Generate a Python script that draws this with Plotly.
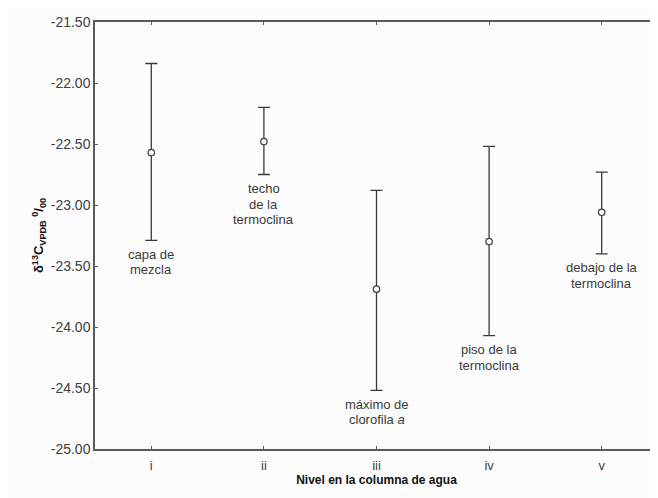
import plotly.graph_objects as go

categories = ["i", "ii", "iii", "iv", "v"]
means = [-22.57, -22.48, -23.69, -23.30, -23.06]
upper = [-21.84, -22.20, -22.88, -22.52, -22.73]
lower = [-23.29, -22.75, -24.52, -24.07, -23.40]
labels = [
    "capa de<br>mezcla",
    "techo<br>de la<br>termoclina",
    "máximo de<br>clorofila <i>a</i>",
    "piso de la<br>termoclina",
    "debajo de la<br>termoclina",
]
y_ticks = [-25.0, -24.5, -24.0, -23.5, -23.0, -22.5, -22.0, -21.5]

xpos = list(range(1, len(categories) + 1))
err_plus = [u - m for u, m in zip(upper, means)]
err_minus = [m - l for m, l in zip(means, lower)]

FONT = "Arial, Liberation Sans, sans-serif"
AX = "#5a5a5a"

fig = go.Figure()
fig.add_trace(go.Scatter(
    x=xpos, y=means, mode="markers",
    marker=dict(symbol="circle", size=6.5, color="white",
                line=dict(color="#404040", width=1.2)),
    error_y=dict(type="data", symmetric=False, array=err_plus, arrayminus=err_minus,
                 color="#3a3a3a", thickness=1.3, width=6),
    showlegend=False, hoverinfo="skip",
))

annotations = []
for x, l, txt in zip(xpos, lower, labels):
    for k, line in enumerate(txt.split("<br>")):
        annotations.append(dict(
            x=x, y=l, xref="x", yref="y", text=line, showarrow=False,
            yanchor="middle", xanchor="center", yshift=-(14 + 15.5 * k),
            font=dict(family=FONT, size=13, color="#3a3a3a"),
        ))

fig.update_layout(
    width=650, height=490,
    margin=dict(l=87, r=0, t=14, b=49),
    paper_bgcolor="#fcfcfc", plot_bgcolor="#fcfcfc",
    font=dict(family=FONT, size=13, color="#404040"),
    annotations=annotations,
    xaxis=dict(
        range=[0.5, 5.5], tickmode="array", tickvals=xpos, ticktext=categories,
        automargin=False,
        showgrid=False, zeroline=False, showline=True, linecolor=AX, linewidth=1.5,
        mirror="ticks", ticks="inside", ticklen=3, tickcolor=AX,
        tickfont=dict(size=13, color="#404040"), ticklabelstandoff=4,
        title=dict(text="<b>Nivel en la columna de agua</b>",
                   font=dict(size=12, color="#111111"), standoff=2),
    ),
    yaxis=dict(
        range=[-25.0, -21.5], tickmode="array", tickvals=y_ticks,
        ticktext=[f"{v:.2f}" for v in y_ticks],
        automargin=False,
        showgrid=False, zeroline=False, showline=True, linecolor=AX, linewidth=1.5,
        ticks="inside", ticklen=3, tickcolor=AX,
        tickfont=dict(size=14, color="#404040"),
        title=dict(text="<b>δ<sup>13</sup>C<sub>VPDB</sub> <sup>0</sup>/<sub>00</sub></b>",
                   font=dict(size=13, color="#111111"), standoff=4),
    ),
)

fig.write_html("out.html")
